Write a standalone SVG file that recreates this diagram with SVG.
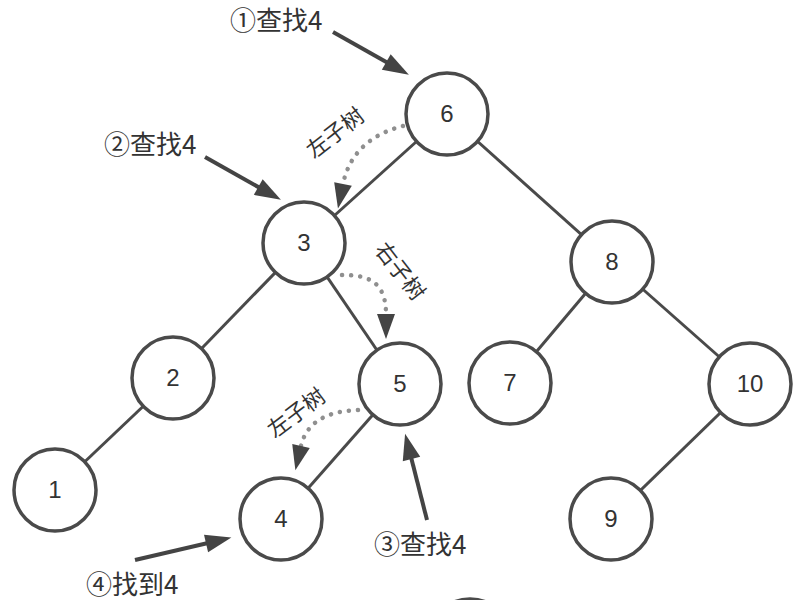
<svg xmlns="http://www.w3.org/2000/svg" width="804" height="600" viewBox="0 0 804 600">
<style>
.edge{stroke:#4a4a4a;stroke-width:3;fill:none}
.node circle{fill:#fff;stroke:#4a4a4a;stroke-width:3.5}
.node text{font-family:"Liberation Sans","Noto Sans",sans-serif;font-size:24px;fill:#333;text-anchor:middle}
.arrow{stroke:#444;stroke-width:4;fill:none;marker-end:url(#head)}
.dot{stroke:#8f8f8f;stroke-width:4.5;fill:none;stroke-dasharray:0.1 9;stroke-linecap:round;marker-end:url(#head2)}
.lbl{font-family:"Noto Sans CJK SC","Noto Sans",sans-serif;font-size:26px;fill:#333}
.sub{font-family:"Noto Sans CJK SC","Noto Sans",sans-serif;font-size:22px;fill:#333;text-anchor:middle}
</style>
<defs>
<marker id="head" markerUnits="userSpaceOnUse" viewBox="0 -10 26 20" refX="2" refY="0" markerWidth="26" markerHeight="20" orient="auto" overflow="visible">
<path d="M0,-9 L26,0 L0,9 z" fill="#444"/>
</marker>
<marker id="head2" markerUnits="userSpaceOnUse" viewBox="0 -10 26 20" refX="0" refY="0" markerWidth="26" markerHeight="20" orient="auto" overflow="visible">
<path d="M0,-9 L25,0 L0,9 z" fill="#444"/>
</marker>
</defs>
<g id="connectors">
<line class="edge" x1="447" y1="114" x2="304" y2="243"/>
<line class="edge" x1="447" y1="114" x2="612" y2="262"/>
<line class="edge" x1="304" y1="243" x2="173" y2="378"/>
<line class="edge" x1="304" y1="243" x2="400" y2="384"/>
<line class="edge" x1="612" y1="262" x2="510" y2="383"/>
<line class="edge" x1="612" y1="262" x2="750" y2="384"/>
<line class="edge" x1="173" y1="378" x2="55" y2="490"/>
<line class="edge" x1="400" y1="384" x2="281" y2="519"/>
<line class="edge" x1="750" y1="384" x2="611" y2="519"/>
</g>
<g id="node-6" class="node"><circle cx="447" cy="114" r="41"/><text x="447" y="122">6</text></g>
<g id="node-3" class="node"><circle cx="304" cy="243" r="41"/><text x="304" y="251">3</text></g>
<g id="node-8" class="node"><circle cx="612" cy="262" r="41"/><text x="612" y="270">8</text></g>
<g id="node-2" class="node"><circle cx="173" cy="378" r="41"/><text x="173" y="386">2</text></g>
<g id="node-5" class="node"><circle cx="400" cy="384" r="41"/><text x="400" y="392">5</text></g>
<g id="node-7" class="node"><circle cx="510" cy="383" r="41"/><text x="510" y="391">7</text></g>
<g id="node-10" class="node"><circle cx="750" cy="384" r="41"/><text x="750" y="392">10</text></g>
<g id="node-1" class="node"><circle cx="55" cy="490" r="41"/><text x="55" y="498">1</text></g>
<g id="node-4" class="node"><circle cx="281" cy="519" r="41"/><text x="281" y="527">4</text></g>
<g id="node-9" class="node"><circle cx="611" cy="519" r="41"/><text x="611" y="527">9</text></g>
<circle cx="470" cy="641" r="42" fill="none" stroke="#4a4a4a" stroke-width="3.5"/>
<g id="annotations">
<path class="dot" d="M403 126 C375 133 350 150 343 184"/>
<path class="dot" d="M342 275 C366 275 386 280 386 314"/>
<path class="dot" d="M358 410 C330 411 307 420 301 446"/>
<line class="arrow" x1="333" y1="32" x2="388" y2="63"/>
<line class="arrow" x1="205" y1="157" x2="260" y2="188"/>
<line class="arrow" x1="427" y1="520" x2="411" y2="457"/>
<line class="arrow" x1="135" y1="560" x2="208" y2="543"/>
<text class="lbl" x="230" y="30">①查找4</text>
<text class="lbl" x="104" y="154">②查找4</text>
<text class="lbl" x="374" y="554">③查找4</text>
<text class="lbl" x="86" y="594">④找到4</text>
<text class="sub" transform="translate(340,139) rotate(-38)">左子树</text>
<text class="sub" transform="translate(394,276) rotate(52)">右子树</text>
<text class="sub" transform="translate(301,419) rotate(-37)">左子树</text>
</g>
</svg>
